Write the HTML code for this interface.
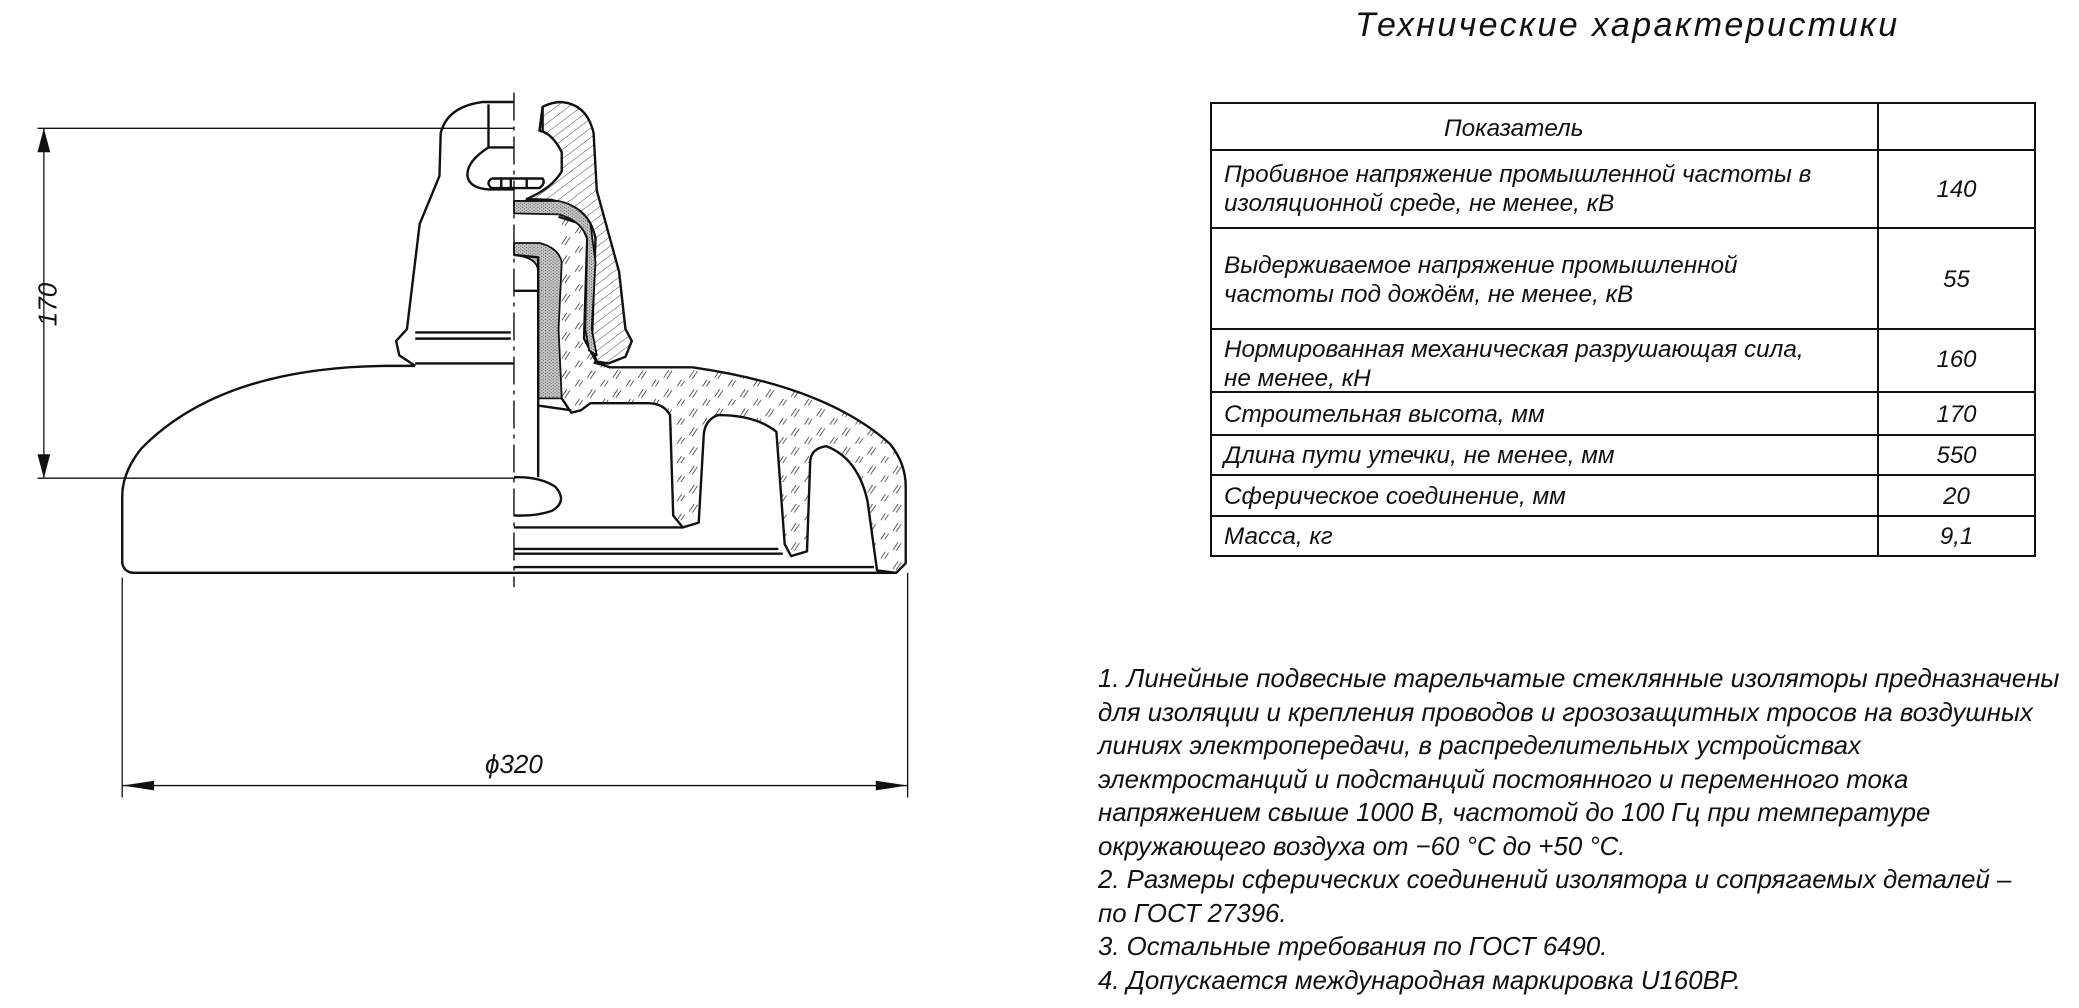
<!DOCTYPE html>
<html><head><meta charset="utf-8"><style>
html,body{margin:0;padding:0;background:#fff;}
body{width:2079px;height:1008px;overflow:hidden;position:relative;font-family:"Liberation Sans",sans-serif;font-style:italic;color:#111;}
.t{position:absolute;white-space:nowrap;font-size:24.3px;line-height:29px;}
.v{position:absolute;left:1878px;width:157px;text-align:center;font-size:24px;line-height:29px;}
path,line{vector-effect:non-scaling-stroke;}
</style></head><body>
<svg width="2079" height="1008" style="position:absolute;left:0;top:0" xmlns="http://www.w3.org/2000/svg">
<defs>
<pattern id="hl" width="14" height="14" patternUnits="userSpaceOnUse" patternTransform="rotate(45)">
<line x1="0" y1="0" x2="0" y2="14" stroke="#222" stroke-width="1.5"/></pattern>
<pattern id="hg" width="40" height="40" patternUnits="userSpaceOnUse">
<path d="M5 22 L13 6 M10 24 L18 8 M25 42 L33 26 M30 44 L38 28" stroke="#333" stroke-width="1.3"/></pattern>
<pattern id="dot" width="6" height="6" patternUnits="userSpaceOnUse">
<rect width="6" height="6" fill="#ccc"/><circle cx="1.5" cy="1.5" r="1" fill="#222"/><circle cx="4.5" cy="4.5" r="1" fill="#444"/></pattern>
</defs>
<g transform="translate(-2,80.5) scale(0.637,0.478)" fill="none" stroke="#111" stroke-width="2.4" stroke-linejoin="round">
<path fill="url(#hg)" stroke="none" d="M880 285 L915 300 L925 330 L920 540 L940 590 L960 600 L1090 600 Q1300 640 1400 760 Q1425 800 1425 850 L1425 1010 L1410 1030 L1380 1025 L1365 880 Q1350 790 1300 765 Q1275 770 1275 800 L1270 985 L1245 995 L1235 970 L1222 735 Q1190 700 1130 700 Q1110 710 1108 740 L1100 925 L1075 935 L1060 910 L1055 700 Q1045 675 1020 675 L930 675 L915 690 L900 695 L885 665 L885 560 L880 380 Z"/>
<path d="M880 285 L915 300 L925 330 L920 540 L940 590 L960 600 L1090 600 Q1300 640 1400 760 Q1425 800 1425 850 L1425 1010 L1410 1030 L1380 1025 L1365 880 Q1350 790 1300 765 Q1275 770 1275 800 L1270 985 L1245 995 L1235 970 L1222 735 Q1190 700 1130 700 Q1110 710 1108 740 L1100 925 L1075 935 L1060 910 L1055 700 Q1045 675 1020 675 L930 675 L915 690 L900 695 L885 665"/>
<path fill="url(#hl)" d="M855 55 Q870 45 885 45 Q925 50 935 110 L940 230 L975 400 L985 520 L995 545 L985 578 L958 592 L940 588 L932 560 L938 330 Q930 280 900 262 L870 250 L830 248 Q870 225 885 190 L885 150 Q870 110 850 105 Z"/>
<path fill="url(#dot)" stroke-width="1.8" d="M810 252 L880 252 Q915 262 930 300 L938 380 L932 520 L940 575 L928 565 L922 520 L925 330 Q915 292 880 280 L810 278 Z"/>
<path fill="url(#dot)" stroke-width="1.8" d="M810 340 L850 340 Q880 350 885 380 L880 520 L885 665 L848 665 L848 400 Q848 370 810 365 Z"/>
<path d="M810 365 L848 370 L848 690 M810 440 L848 440 M848 680 L900 690 M848 690 L848 830"/>
<path d="M810 830 Q850 828 875 850 Q895 880 870 900 Q845 912 810 910"/>
<path d="M810 45 L760 45 Q705 55 695 110 L693 200 L662 300 L642 520 L625 545 L630 575 L655 597"/>
<path d="M770 50 L770 140 Q735 170 737 200 Q740 225 770 228 L810 228"/>
<path d="M770 140 Q790 140 810 140"/>
<path d="M775 205 L855 205 Q860 215 850 225 L775 225 Q765 215 775 205 M790 205 L790 225 M805 205 L805 225 M830 205 L830 225"/>
<path d="M855 55 L855 105"/>
<path d="M655 527 L805 527 M655 540 L805 540 M655 592 L810 592"/>
<path d="M655 597 L610 597 Q350 600 225 770 Q195 820 195 870 L195 1010 Q198 1030 215 1030 L1410 1030"/>
<path d="M810 935 L1075 935 M810 980 L1225 980 M810 990 L1232 990 M810 1018 L1375 1018"/>
<path d="M935 590 L955 597"/>
<path d="M810 25 L810 1060" stroke-width="1.4" stroke-dasharray="28 6 4 6"/>
<path stroke-width="1.3" d="M62 100 L810 100 M62 832 L810 832 M72 100 L72 832 M195 1040 L195 1500 M1428 1030 L1428 1500 M195 1475 L1428 1475"/>
<path fill="#111" stroke="none" d="M72 100 L62 150 L82 150 Z M72 832 L62 782 L82 782 Z M195 1475 L245 1465 L245 1485 Z M1428 1475 L1378 1465 L1378 1485 Z"/>
</g>
<g stroke="#111" stroke-width="2" fill="none">
<rect x="1211" y="103" width="824" height="453"/>
<line x1="1878" y1="103" x2="1878" y2="556"/>
<line x1="1211" y1="150" x2="2035" y2="150"/>
<line x1="1211" y1="228" x2="2035" y2="228"/>
<line x1="1211" y1="329" x2="2035" y2="329"/>
<line x1="1211" y1="392" x2="2035" y2="392"/>
<line x1="1211" y1="435" x2="2035" y2="435"/>
<line x1="1211" y1="475" x2="2035" y2="475"/>
<line x1="1211" y1="516" x2="2035" y2="516"/>
</g>
</svg>
<div class="t" style="left:485px;top:750px;font-size:26px;">ϕ320</div>
<div class="t" style="left:18px;top:290px;font-size:26px;transform:rotate(-90deg);transform-origin:center;width:60px;text-align:center;">170</div>
<div class="t" style="left:1355px;top:4px;font-size:34px;line-height:42px;letter-spacing:2.4px;">Технические характеристики</div>
<div class="t" style="left:1444px;top:114px;">Показатель</div>
<div class="t" style="left:1224px;top:160px;">Пробивное напряжение промышленной частоты в<br>изоляционной среде, не менее, кВ</div>
<div class="t" style="left:1224px;top:251px;">Выдерживаемое напряжение промышленной<br>частоты под дождём, не менее, кВ</div>
<div class="t" style="left:1224px;top:335px;">Нормированная механическая разрушающая сила,<br>не менее, кН</div>
<div class="t" style="left:1224px;top:400px;">Строительная высота, мм</div>
<div class="t" style="left:1224px;top:441px;">Длина пути утечки, не менее, мм</div>
<div class="t" style="left:1224px;top:482px;">Сферическое соединение, мм</div>
<div class="t" style="left:1224px;top:522px;">Масса, кг</div>
<div class="v" style="top:175px;">140</div>
<div class="v" style="top:265px;">55</div>
<div class="v" style="top:345px;">160</div>
<div class="v" style="top:400px;">170</div>
<div class="v" style="top:441px;">550</div>
<div class="v" style="top:482px;">20</div>
<div class="v" style="top:522px;">9,1</div>
<div class="t" style="left:1098px;top:663px;line-height:33.5px;font-size:25.8px;">1. Линейные подвесные тарельчатые стеклянные изоляторы предназначены<br>для изоляции и крепления проводов и грозозащитных тросов на воздушных<br>линиях электропередачи, в распределительных устройствах<br>электростанций и подстанций постоянного и переменного тока<br>напряжением свыше 1000 В, частотой до 100 Гц при температуре<br>окружающего воздуха от −60 °С до +50 °С.<br>2. Размеры сферических соединений изолятора и сопрягаемых деталей  –<br>по ГОСТ 27396.<br>3. Остальные требования по ГОСТ 6490.<br>4. Допускается международная маркировка U160BP.</div>
</body></html>
